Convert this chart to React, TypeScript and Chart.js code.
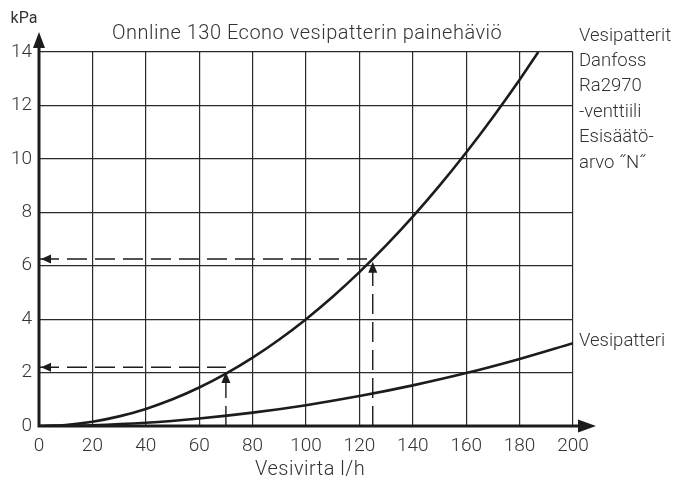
import React, { useEffect, useRef } from "react";
import { Chart, registerables } from "chart.js";

Chart.register(...registerables);

// Danfoss Ra2970 valve + coil (steep curve)
const valveFlow = [0, 10, 20, 30, 40, 50, 60, 70, 80, 90, 100, 110, 120, 130, 140, 150, 160, 170, 180, 187];
const valveDrop = [0, 0.04, 0.16, 0.36, 0.64, 1.0, 1.44, 1.96, 2.56, 3.24, 4.0, 4.84, 5.76, 6.76, 7.84, 9.0, 10.24, 11.56, 12.96, 14.0];

// Coil only (flat curve)
const coilFlow = [0, 20, 40, 60, 80, 100, 120, 140, 160, 180, 200];
const coilDrop = [0, 0.03, 0.12, 0.28, 0.5, 0.78, 1.12, 1.52, 1.98, 2.51, 3.1];

// Reading guides (flow, dashed level, arrow tip on curve)
const guideFlow = [70, 125];
const guideLevel = [2.2, 6.25];
const guideTip = [2.02, 6.15];

const xTickValues = [0, 20, 40, 60, 80, 100, 120, 140, 160, 180, 200];
const yTickValues = [0, 2, 4, 6, 8, 10, 12, 14];

const titleText = "Onnline 130 Econo vesipatterin painehäviö";
const xTitle = "Vesivirta l/h";
const yTitle = "kPa";
const valveLabel = ["Vesipatterit", "Danfoss", "Ra2970", "-venttiili", "Esisäätö-", "arvo \u02DDN\u02DD"];
const coilLabel = "Vesipatteri";

const FONT = "Roboto, 'Noto Sans', sans-serif";
const INK = "#1c1c1c";
const TEXT = "#333333";

export default function App() {
  const ref = useRef<HTMLCanvasElement | null>(null);

  useEffect(() => {
    document.body.style.margin = "0";
    const canvas = ref.current;
    if (!canvas) return;

    const dashed = (pts: { x: number; y: number }[]) => ({
      data: pts,
      borderColor: INK,
      borderWidth: 1.4,
      borderDash: [20, 8],
      pointRadius: 0,
      fill: false,
      tension: 0,
    });

    const guideSets: any[] = [];
    guideFlow.forEach((f, i) => {
      guideSets.push(dashed([{ x: 0, y: guideLevel[i] }, { x: f, y: guideLevel[i] }]));
      guideSets.push(dashed([{ x: f, y: 0 }, { x: f, y: guideTip[i] - 0.3 }]));
    });

    const overlay = {
      id: "overlay",
      afterDatasetsDraw(chart: any) {
        const { ctx, scales, chartArea } = chart;
        const xs = scales.x;
        const ys = scales.y;
        ctx.save();
        ctx.fillStyle = INK;
        // guide arrows
        guideFlow.forEach((f, i) => {
          const px = xs.getPixelForValue(f);
          const py = ys.getPixelForValue(guideTip[i]);
          ctx.beginPath();
          ctx.moveTo(px, py);
          ctx.lineTo(px - 4.5, py + 11);
          ctx.lineTo(px + 4.5, py + 11);
          ctx.closePath();
          ctx.fill();
          const hx = xs.getPixelForValue(0) + 2;
          const hy = ys.getPixelForValue(guideLevel[i]);
          ctx.beginPath();
          ctx.moveTo(hx, hy);
          ctx.lineTo(hx + 10, hy - 4.5);
          ctx.lineTo(hx + 10, hy + 4.5);
          ctx.closePath();
          ctx.fill();
        });
        // axes
        const x0 = xs.getPixelForValue(0);
        const y0 = ys.getPixelForValue(0);
        ctx.strokeStyle = INK;
        ctx.lineWidth = 3;
        ctx.beginPath();
        ctx.moveTo(x0, y0 + 1.5);
        ctx.lineTo(x0, chartArea.top - 6);
        ctx.moveTo(x0 - 1.5, y0);
        ctx.lineTo(chartArea.right + 8, y0);
        ctx.stroke();
        ctx.beginPath();
        ctx.moveTo(x0, chartArea.top - 20);
        ctx.lineTo(x0 - 6, chartArea.top - 4);
        ctx.lineTo(x0 + 6, chartArea.top - 4);
        ctx.closePath();
        ctx.fill();
        ctx.beginPath();
        ctx.moveTo(chartArea.right + 23, y0);
        ctx.lineTo(chartArea.right + 5, y0 - 6.5);
        ctx.lineTo(chartArea.right + 5, y0 + 6.5);
        ctx.closePath();
        ctx.fill();
        // texts
        ctx.fillStyle = TEXT;
        ctx.textBaseline = "middle";
        ctx.textAlign = "left";
        ctx.font = `300 20px ${FONT}`;
        (ctx as any).letterSpacing = "0.5px";
        ctx.fillText(titleText, 112, 34);
        ctx.fillText(xTitle, 255, 470);
        (ctx as any).letterSpacing = "0px";
        ctx.font = `16px ${FONT}`;
        ctx.textAlign = "center";
        ctx.fillText(yTitle, 24, 19);
        ctx.font = `300 18.5px ${FONT}`;
        ctx.textAlign = "left";
        valveLabel.forEach((t, i) => ctx.fillText(t, chartArea.right + 6, 36 + i * 25.4));
        ctx.fillText(coilLabel, chartArea.right + 6, 341);
        ctx.restore();
      },
    };

    const chart = new Chart(canvas, {
      type: "line",
      data: {
        datasets: [
          {
            data: valveFlow.map((x, i) => ({ x, y: valveDrop[i] })),
            borderColor: INK,
            borderWidth: 2.6,
            pointRadius: 0,
            fill: false,
            cubicInterpolationMode: "monotone",
          },
          {
            data: coilFlow.map((x, i) => ({ x, y: coilDrop[i] })),
            borderColor: INK,
            borderWidth: 2.6,
            pointRadius: 0,
            fill: false,
            cubicInterpolationMode: "monotone",
          },
          ...guideSets,
        ],
      },
      options: {
        animation: false,
        responsive: false,
        events: [],
        layout: { padding: { left: 0, top: 52, right: 114, bottom: 0 } },
        plugins: { legend: { display: false }, tooltip: { enabled: false }, title: { display: false } },
        scales: {
          x: {
            type: "linear",
            min: 0,
            max: 200,
            afterFit: (s: any) => { s.height = 56; },
            afterBuildTicks: (s: any) => { s.ticks = xTickValues.map((v) => ({ value: v })); },
            grid: { color: "#2a2a2a", lineWidth: 1.2, drawTicks: false },
            border: { display: false },
            ticks: { color: TEXT, padding: 9, font: { family: FONT, size: 19, weight: "300" }, maxRotation: 0 },
          },
          y: {
            type: "linear",
            min: 0,
            max: 14,
            afterFit: (s: any) => { s.width = 39; },
            afterBuildTicks: (s: any) => { s.ticks = yTickValues.map((v) => ({ value: v })); },
            grid: { color: "#2a2a2a", lineWidth: 1.2, drawTicks: false },
            border: { display: false },
            ticks: { color: TEXT, padding: 7, font: { family: FONT, size: 19, weight: "300" } },
          },
        },
      },
      plugins: [overlay],
    });
    return () => chart.destroy();
  }, []);

  return (
    <div style={{ position: "relative", width: 687, height: 482 }}>
      <canvas ref={ref} width={687} height={482} style={{ display: "block" }} />
    </div>
  );
}
